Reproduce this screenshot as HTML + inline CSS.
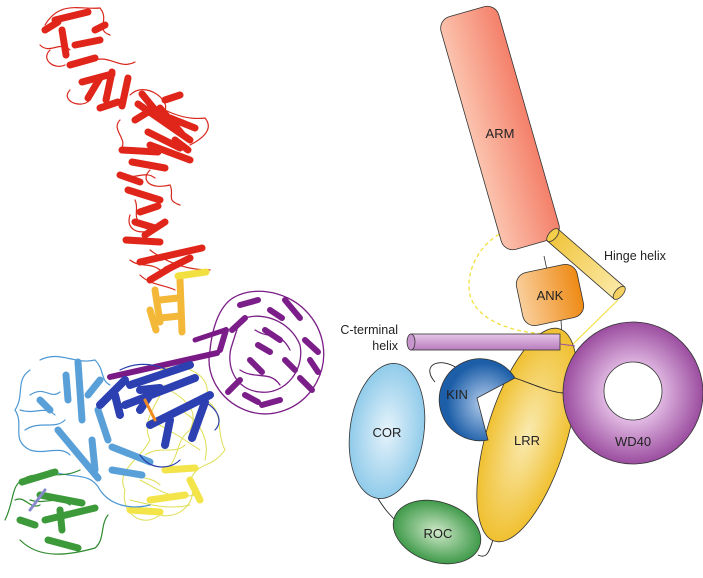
<!DOCTYPE html>
<html><head><meta charset="utf-8"><style>
html,body{margin:0;padding:0;background:#fff;}
svg{display:block;}
text{font-family:"Liberation Sans",sans-serif;}
</style></head><body>
<svg width="703" height="578" viewBox="0 0 703 578" xmlns="http://www.w3.org/2000/svg">
<defs>
<linearGradient id="gArm" x1="0" x2="1"><stop offset="0" stop-color="#fbc3ae"/><stop offset="1" stop-color="#f4806a"/></linearGradient>
<linearGradient id="gAnk" x1="0" x2="1"><stop offset="0" stop-color="#f9cf9c"/><stop offset="1" stop-color="#ee8a14"/></linearGradient>
<linearGradient id="gHinge" x1="0" x2="1"><stop offset="0" stop-color="#f0c43c"/><stop offset="1" stop-color="#fbeaa8"/></linearGradient>
<linearGradient id="gCt" x1="0" y1="0" x2="0" y2="1"><stop offset="0" stop-color="#e8c6ea"/><stop offset="1" stop-color="#b67cbc"/></linearGradient>
<radialGradient id="gLrr"><stop offset="0" stop-color="#faeab0"/><stop offset="1" stop-color="#f0c030"/></radialGradient>
<radialGradient id="gKin" cx="0.6" cy="0.55"><stop offset="0" stop-color="#b8d0ee"/><stop offset="1" stop-color="#1c5ea8"/></radialGradient>
<radialGradient id="gCor"><stop offset="0" stop-color="#e6f3fb"/><stop offset="1" stop-color="#90cbea"/></radialGradient>
<radialGradient id="gRoc"><stop offset="0" stop-color="#cfe8c8"/><stop offset="1" stop-color="#3f9a4a"/></radialGradient>
<radialGradient id="gWd"><stop offset="0.4" stop-color="#e0b8e2"/><stop offset="1" stop-color="#9b4d9f"/></radialGradient>
</defs>

<!-- LEFT: ribbon approximation -->
<g fill="none" stroke-linecap="round">
 <g stroke="#d8281c" stroke-width="1.2">
  <path d="M45 25 C60 0 80 10 100 8 C110 20 95 30 110 35 M50 50 C40 60 55 70 65 65 M70 90 C60 100 80 110 90 100 M130 95 C145 80 170 100 165 110 C175 115 190 120 205 118 C215 130 200 140 190 145 M150 170 C140 180 150 190 170 185 C175 195 165 200 180 205 M130 215 C125 230 140 235 150 230 M150 250 C170 265 190 270 210 270 M140 275 C150 285 165 285 175 290 M120 120 C110 130 130 140 120 150 M40 45 C50 55 60 40 70 50 M95 60 C110 55 120 70 135 62 M125 175 C135 180 145 170 155 178 M135 200 C140 210 130 220 145 225 M130 260 C140 268 150 262 160 270"/>
 </g>
 <g stroke="#e0261a" stroke-width="7">
  <path d="M55 20 L88 12 M62 30 L66 55 M75 45 L100 40 M70 65 L95 58 M82 82 L112 74 M88 98 L100 78 M112 72 L106 100 M128 78 L122 106 M100 108 L118 102 M142 94 L165 122 M138 104 L190 140 M160 108 L182 134 M148 132 L180 148 M122 150 L158 152 M132 162 L165 168 M128 190 L160 200 M140 212 L158 206 M126 240 L160 242 M140 262 L202 248 M166 270 L190 258 M135 222 L155 228 M170 118 L195 128 M150 145 L190 160 M45 30 L58 22 M95 30 L105 25 M135 120 L148 112 M165 100 L180 95 M175 140 L188 150 M120 175 L140 182 M145 235 L165 222 M150 280 L170 268"/>
 </g>
 <g stroke="#f4b838" stroke-width="7">
  <path d="M155 290 L160 322 M180 280 L182 332 M160 300 L178 298 M160 318 L180 316 M150 310 L156 330"/>
 </g>
 <path d="M178 276 L206 272" stroke="#f2e040" stroke-width="7"/>
 <g stroke="#dede52" stroke-width="1">
  <path d="M160 370 C190 360 215 380 205 400 C225 410 215 430 225 450 C210 470 200 460 190 480 C200 500 180 520 160 515 C140 530 120 510 125 490 C115 470 140 460 150 440 C140 420 160 400 165 385 M170 390 C185 400 200 410 190 430 C175 440 180 460 165 470 M140 480 C160 490 170 500 195 495 M150 420 C170 430 185 440 200 450 M130 500 C150 505 170 510 190 505 M180 410 C200 420 210 440 205 460 M145 455 C160 445 175 455 185 445 M125 470 C135 480 150 475 160 485"/>
 </g>
 <g stroke="#f3e44a" stroke-width="7"><path d="M150 500 L185 495 M165 470 L195 468 M130 510 L160 512 M190 480 L200 500"/></g>
 <g stroke="#7a1f86" stroke-width="1.3">
  <path d="M230 300 C250 285 285 290 305 310 C325 330 330 360 315 385 C300 410 270 420 245 410 C220 400 205 375 210 350 C212 330 218 310 230 300 M240 320 C260 310 290 320 300 345 C305 370 285 395 260 392 C235 390 225 365 232 345 Z M255 330 C270 340 280 330 290 350 M240 370 C255 380 270 370 280 385"/>
 </g>
 <g stroke="#7c1e8a" stroke-width="6">
  <path d="M240 305 L258 300 M285 300 L300 318 M305 340 L318 352 M300 378 L312 390 M262 405 L280 400 M228 392 L240 380 M220 350 L226 330 M265 330 L280 340 M250 360 L262 372 M285 360 L295 370 M245 318 L232 330 M270 310 L282 318 M310 360 L318 372 M245 395 L258 402 M258 345 L270 352"/>
 </g>
 <path d="M110 377 L217 353" stroke="#7a1a86" stroke-width="6"/>
 <path d="M195 340 L225 330" stroke="#7a1a86" stroke-width="5"/>
 <g stroke="#4d98d4" stroke-width="1.2">
  <path d="M30 370 C15 380 25 395 15 410 C25 425 10 440 30 450 C45 455 60 445 70 455 M40 360 C60 350 75 365 95 360 C105 370 100 380 110 385 M25 430 C40 420 55 430 65 420 M50 470 C70 480 90 470 100 490 C110 505 130 510 150 505 M30 395 C45 385 50 400 60 392 M20 410 C35 415 45 405 55 415"/>
 </g>
 <g stroke="#5aa0d8" stroke-width="7">
  <path d="M78 362 L82 420 M66 375 L68 400 M58 430 L98 478 M92 440 L95 470 M112 447 L150 462 M112 470 L142 475 M98 410 L108 440 M88 395 L100 380 M40 400 L50 410"/>
 </g>
 <g stroke="#2a3fae" stroke-width="1.2"><path d="M120 370 C140 360 160 365 170 372 M140 455 C150 470 170 470 180 460 M200 400 C215 405 225 420 215 430"/></g>
 <g stroke="#2d40b2" stroke-width="8">
  <path d="M100 405 L125 380 M130 385 L190 365 M125 405 L195 378 M150 425 L210 395 M192 438 L205 402 M165 445 L170 420 M140 390 L160 388 M115 395 L120 415 M140 410 L150 395"/>
 </g>
 <path d="M145 400 L155 420" stroke="#f08a20" stroke-width="3"/>
 <g stroke="#2e8a2e" stroke-width="1.2"><path d="M5 520 C15 500 10 485 25 478 C40 470 60 480 80 470 M20 540 C40 560 70 555 95 548 C105 540 100 525 108 515 M30 500 C45 505 55 495 70 505 M15 500 C25 495 30 510 40 505"/></g>
 <g stroke="#3c9a3a" stroke-width="7">
  <path d="M22 482 L55 472 M40 495 L82 503 M45 520 L95 508 M48 540 L78 548 M60 510 L62 530 M20 520 L35 525"/>
 </g>
 <path d="M30 510 L45 490" stroke="#8888cc" stroke-width="3" stroke-dasharray="2 2"/>
</g>

<!-- RIGHT: cartoon -->
<path d="M553 232 C500 210 462 260 470 295 C478 325 525 335 556 334" fill="none" stroke="#f3e040" stroke-width="1.3" stroke-dasharray="4 3"/>
<path d="M618 300 L570 347" stroke="#f3e040" stroke-width="1.2"/>

<g transform="translate(500 128) rotate(-16)">
 <rect x="-30" y="-121" width="60" height="242" rx="12" fill="url(#gArm)" stroke="#333" stroke-width="0.8"/>
</g>
<path d="M544 256 L547 270" stroke="#333" stroke-width="0.8"/>
<path d="M561 320 L562 336" stroke="#333" stroke-width="0.8"/>

<g transform="translate(550 295) rotate(-12)">
 <rect x="-31" y="-27" width="62" height="54" rx="12" fill="url(#gAnk)" stroke="#333" stroke-width="0.8"/>
</g>

<g transform="translate(586 264) rotate(41)">
 <rect x="-44" y="-8" width="88" height="16" fill="url(#gHinge)" stroke="#333" stroke-width="0.8"/>
 <ellipse cx="44" cy="0" rx="4" ry="8" fill="#f4d060" stroke="#333" stroke-width="0.8"/>
 <ellipse cx="-44" cy="0" rx="4" ry="8" fill="#f3cf4a" stroke="#333" stroke-width="0.8"/>
</g>

<path d="M435 382 C420 365 440 355 460 370" fill="none" stroke="#222" stroke-width="0.9"/>
<path d="M377 497 C385 510 390 515 397 522" fill="none" stroke="#222" stroke-width="0.9"/>
<path d="M478 555 C488 560 490 548 493 540" fill="none" stroke="#222" stroke-width="0.9"/>

<ellipse cx="527" cy="435" rx="40" ry="111" transform="rotate(17 527 435)" fill="url(#gLrr)" stroke="#333" stroke-width="0.8"/>

<path fill-rule="evenodd" d="M563 393 a70 71 0 1 0 140 0 a70 71 0 1 0 -140 0 Z M604 391 a29 29 0 1 0 58 0 a29 29 0 1 0 -58 0 Z" fill="url(#gWd)" stroke="#333" stroke-width="0.8"/>

<path d="M515 378 A41 41 0 1 0 488 440 L477 398 Z" fill="url(#gKin)" stroke="#333" stroke-width="0.8"/>
<path d="M515 378 C535 385 550 392 563 393" fill="none" stroke="#222" stroke-width="0.9"/>

<rect x="411" y="334" width="149" height="16" fill="url(#gCt)" stroke="#333" stroke-width="0.8"/>
<ellipse cx="411" cy="342" rx="4" ry="8" fill="#c796cc" stroke="#333" stroke-width="0.8"/>
<path d="M560 344 L575 346" stroke="#9b4d9f" stroke-width="1"/>

<ellipse cx="387" cy="431" rx="37" ry="68" transform="rotate(8 387 431)" fill="url(#gCor)" stroke="#333" stroke-width="0.8"/>
<ellipse cx="437" cy="532" rx="45" ry="30" transform="rotate(18 437 532)" fill="url(#gRoc)" stroke="#333" stroke-width="0.8"/>

<g font-size="13" fill="#222" text-anchor="middle">
 <text x="500" y="138">ARM</text>
 <text x="550" y="300">ANK</text>
 <text x="457" y="399">KIN</text>
 <text x="387" y="437">COR</text>
 <text x="527" y="445">LRR</text>
 <text x="633" y="446">WD40</text>
 <text x="438" y="538">ROC</text>
</g>
<g font-size="12.5" fill="#222">
 <text x="604" y="260">Hinge helix</text>
 <text x="398" y="334" text-anchor="end">C-terminal</text>
 <text x="398" y="350" text-anchor="end">helix</text>
</g>
</svg>
</body></html>
